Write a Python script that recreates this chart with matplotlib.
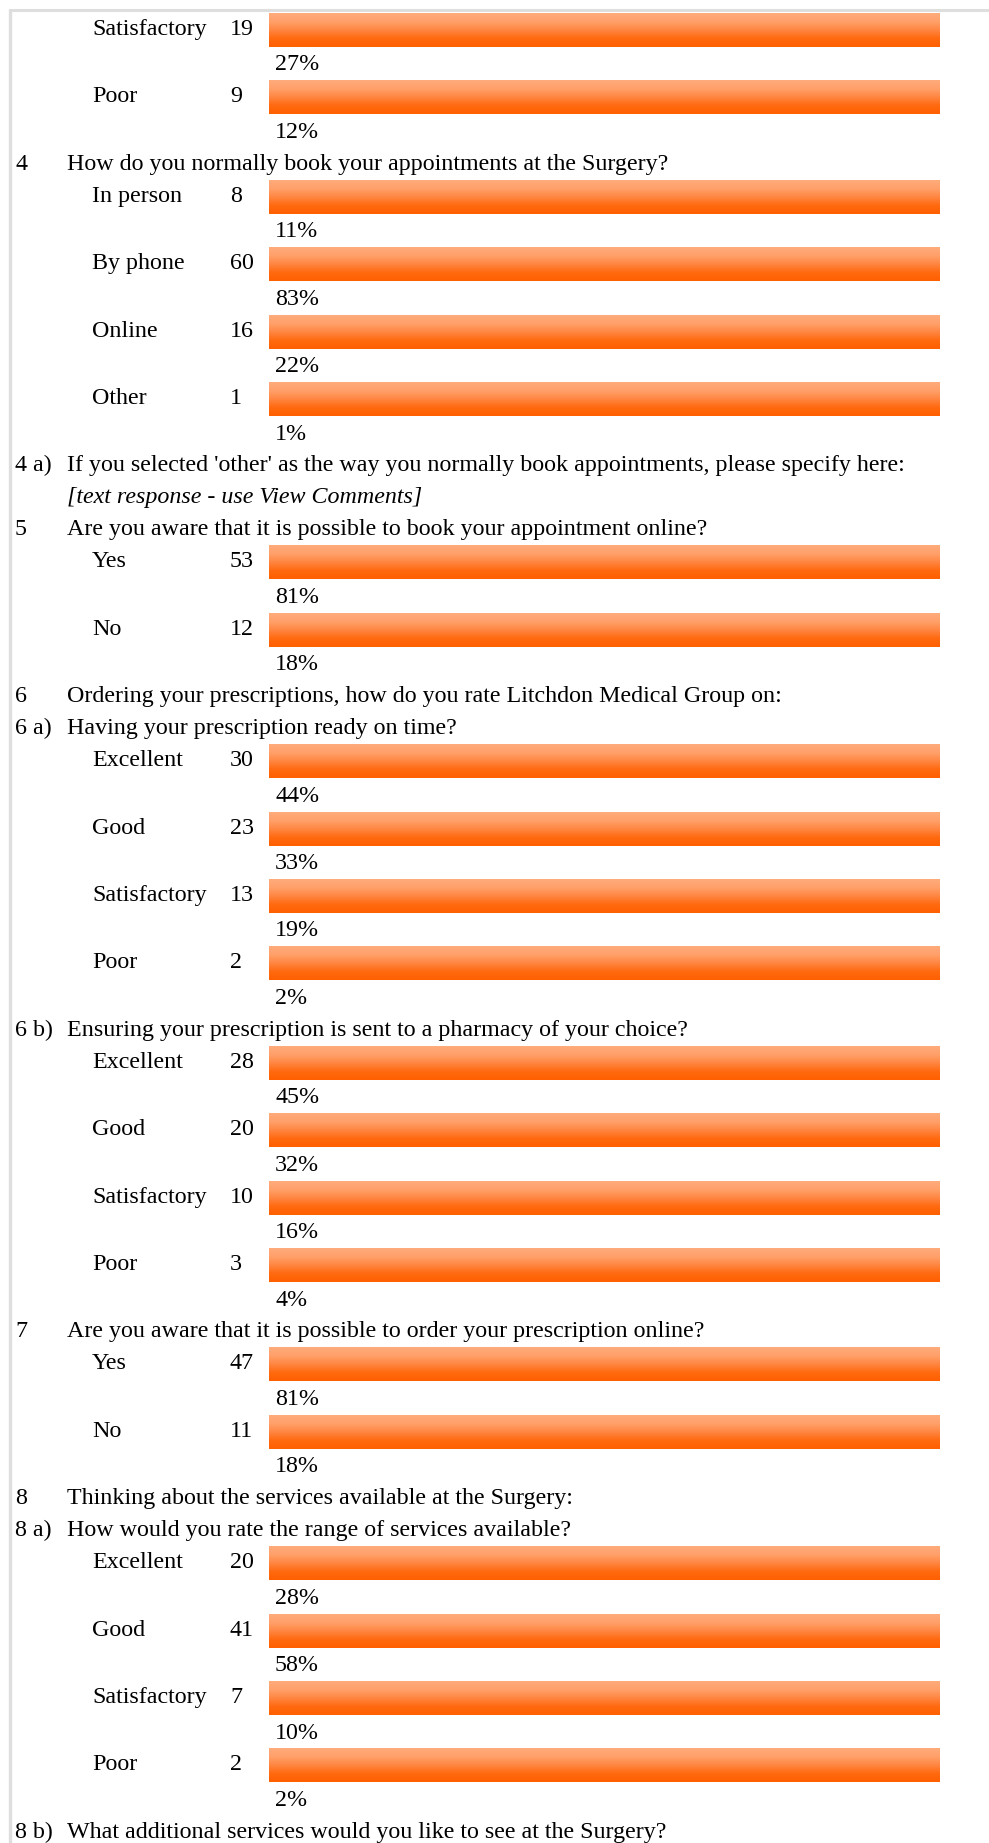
import numpy as np
import matplotlib
matplotlib.use("Agg")
import matplotlib.pyplot as plt
from matplotlib.colors import LinearSegmentedColormap

# ---- survey results ----
q3_labels = ["Satisfactory", "Poor"]
q3_counts = [19, 9]
q3_pcts = [27, 12]

q4_num = "4"
q4_text = "How do you normally book your appointments at the Surgery?"
q4_labels = ["In person", "By phone", "Online", "Other"]
q4_counts = [8, 60, 16, 1]
q4_pcts = [11, 83, 22, 1]

q4a_num = "4 a)"
q4a_text = "If you selected 'other' as the way you normally book appointments, please specify here:"
q4a_note = "[text response - use View Comments]"

q5_num = "5"
q5_text = "Are you aware that it is possible to book your appointment online?"
q5_labels = ["Yes", "No"]
q5_counts = [53, 12]
q5_pcts = [81, 18]

q6_num = "6"
q6_text = "Ordering your prescriptions, how do you rate Litchdon Medical Group on:"

q6a_num = "6 a)"
q6a_text = "Having your prescription ready on time?"
q6a_labels = ["Excellent", "Good", "Satisfactory", "Poor"]
q6a_counts = [30, 23, 13, 2]
q6a_pcts = [44, 33, 19, 2]

q6b_num = "6 b)"
q6b_text = "Ensuring your prescription is sent to a pharmacy of your choice?"
q6b_labels = ["Excellent", "Good", "Satisfactory", "Poor"]
q6b_counts = [28, 20, 10, 3]
q6b_pcts = [45, 32, 16, 4]

q7_num = "7"
q7_text = "Are you aware that it is possible to order your prescription online?"
q7_labels = ["Yes", "No"]
q7_counts = [47, 11]
q7_pcts = [81, 18]

q8_num = "8"
q8_text = "Thinking about the services available at the Surgery:"

q8a_num = "8 a)"
q8a_text = "How would you rate the range of services available?"
q8a_labels = ["Excellent", "Good", "Satisfactory", "Poor"]
q8a_counts = [20, 41, 7, 2]
q8a_pcts = [28, 58, 10, 2]

q8b_num = "8 b)"
q8b_text = "What additional services would you like to see at the Surgery?"

# ---- page structure ----
blocks = [
    ("answers", q3_labels, q3_counts, q3_pcts),
    ("question", q4_num, q4_text),
    ("answers", q4_labels, q4_counts, q4_pcts),
    ("question", q4a_num, q4a_text),
    ("note", q4a_note),
    ("question", q5_num, q5_text),
    ("answers", q5_labels, q5_counts, q5_pcts),
    ("question", q6_num, q6_text),
    ("question", q6a_num, q6a_text),
    ("answers", q6a_labels, q6a_counts, q6a_pcts),
    ("question", q6b_num, q6b_text),
    ("answers", q6b_labels, q6b_counts, q6b_pcts),
    ("question", q7_num, q7_text),
    ("answers", q7_labels, q7_counts, q7_pcts),
    ("question", q8_num, q8_text),
    ("question", q8a_num, q8a_text),
    ("answers", q8a_labels, q8a_counts, q8a_pcts),
    ("question", q8b_num, q8b_text),
]

W, H = 989, 1843
fig = plt.figure(figsize=(W / 100, H / 100), dpi=100)
ax = fig.add_axes([0, 0, 1, 1])
ax.set_xlim(0, W)
ax.set_ylim(H, 0)
ax.axis("off")

FONT = "Liberation Serif"
FS = 17.3
text_kw = dict(family=FONT, fontsize=FS, color="#000000", va="baseline", ha="left")

# column positions (px)
x_num, x_question, x_label, x_count = 15, 67, 92, 230
bar_left, bar_right = 269, 940
x_pct = 275

line_step = 32.0
row_step = 67.4
bar_up, bar_down = 22, 12
pct_drop = 35.5

grad_cmap = LinearSegmentedColormap.from_list(
    "bar_grad", ["#ffab7c", "#ffa06a", "#ff8642", "#ff6a10", "#ff6000"])
grad = np.linspace(0, 1, 64).reshape(-1, 1)

# page frame
ax.plot([9, W], [10, 10], color="#dedede", lw=2.2, solid_capstyle="butt")
ax.plot([9.5, 9.5], [9, H], color="#dedede", lw=2.4, solid_capstyle="butt")

y = 35.0
for block in blocks:
    kind = block[0]
    if kind == "question":
        ax.text(x_num, y, block[1], **text_kw)
        ax.text(x_question, y, block[2], **text_kw)
        y += line_step
    elif kind == "note":
        ax.text(x_question, y, block[1], style="italic", **text_kw)
        y += line_step
    else:
        _, labels, counts, pcts = block
        for lab, cnt, pct in zip(labels, counts, pcts):
            ax.text(x_label, y, lab, **text_kw)
            ax.text(x_count, y, str(cnt), **text_kw)
            top, bottom = y - bar_up, y + bar_down
            bars = ax.barh((top + bottom) / 2, bar_right - bar_left, left=bar_left,
                           height=bottom - top, color="none", edgecolor="none")
            img = ax.imshow(grad, cmap=grad_cmap, aspect="auto", origin="upper",
                            extent=(bar_left, bar_right, bottom, top),
                            interpolation="bilinear")
            img.set_clip_path(bars.patches[0])
            ax.text(x_pct, y + pct_drop, f"{pct}%", **text_kw)
            y += row_step

ax.set_xlim(0, W)
ax.set_ylim(H, 0)
fig.savefig("out.png", dpi=100, facecolor="white")
